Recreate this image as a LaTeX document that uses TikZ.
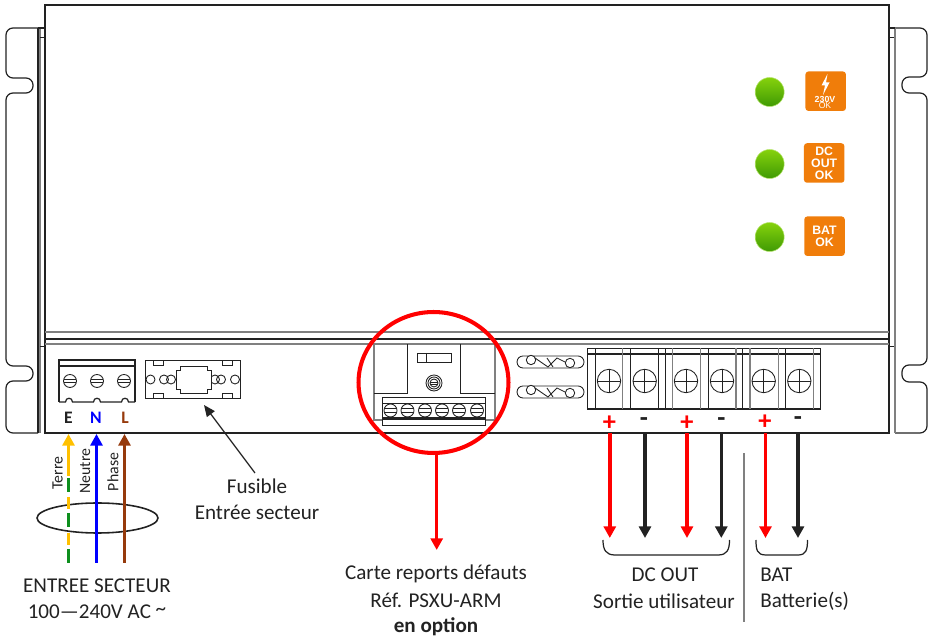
\documentclass[tikz,border=0pt]{standalone}
\usepackage{fontspec}
\setmainfont{Carlito}
\newfontfamily\badgefont{Liberation Sans}
\usetikzlibrary{arrows.meta,shapes.geometric}
\definecolor{caseblack}{HTML}{222222}
\definecolor{casegray}{HTML}{808080}
\definecolor{earthyellow}{HTML}{FFC000}
\definecolor{earthgreen}{HTML}{0E8F1E}
\definecolor{phasebrown}{HTML}{963A0C}
\definecolor{badgeorange}{HTML}{F07D0A}
\definecolor{ledtop}{HTML}{86D20C}
\definecolor{ledbottom}{HTML}{3F9A04}
\tikzset{
    caseline/.style={draw=caseblack, line width=0.7pt},
    thinline/.style={draw=caseblack, line width=0.5pt},
    grayline/.style={draw=casegray, line width=0.7pt},
    label/.style={inner sep=0pt, text=caseblack, font=\fontsize{12}{14}\selectfont},
    sidelabel/.style={inner sep=0pt, text=caseblack, rotate=90, font=\fontsize{9}{10}\selectfont},
    pinlabel/.style={inner sep=0pt, font=\fontsize{10}{11}\selectfont\bfseries},
    polarity/.style={inner sep=0pt, font=\fontsize{15}{16}\selectfont\bfseries},
    wire/.style={line width=2pt, -{Triangle[length=6.6pt,width=6.8pt]}},
    plainwire/.style={line width=2pt},
    led/.style={circle, minimum size=0.58cm, inner sep=0pt, top color=ledtop, bottom color=ledbottom, draw=ledtop!60!white, line width=0.3pt},
    badge/.style={rounded corners=0.6mm, fill=badgeorange, text=white, inner sep=0pt, minimum width=0.81cm, minimum height=0.79cm, align=center, font=\badgefont\fontsize{7}{6.9}\selectfont\bfseries},
    slotscrew/.pic={
        \draw[thinline] (0,0) circle (6.5);
        \draw[thinline] (-6,-1.6) -- (6,-1.6);
        \draw[thinline] (-6,1.6) -- (6,1.6);
    },
    crossscrew/.pic={
        \draw[thinline] (0,0) circle (11.7);
        \draw[thinline] (-11.7,0) -- (11.7,0);
        \draw[thinline] (0,-11.7) -- (0,11.7);
    },
}
\begin{document}
\begin{tikzpicture}[x=0.02cm, y=-0.02cm]
    \useasboundingbox (0,0) rectangle (931,638);

    % Side plates with their slots
    \draw[caseline, rounded corners=1.4mm] (38,28) -- (6,28) -- (6,78) -- (33,78) -- (33,93) -- (6,93) -- (6,366) -- (33,366) -- (33,381) -- (6,381) -- (6,433) -- (38,433);
    \draw[caseline, rounded corners=1.4mm] (895,28) -- (927,28) -- (927,77) -- (902,77) -- (902,93) -- (927,93) -- (927,365) -- (902,365) -- (902,382) -- (927,382) -- (927,433) -- (895,433);
    \draw[caseline] (38,28) -- (38,433);
    \draw[casegray, line width=1.1pt] (39.7,28) -- (39.7,433);
    \draw[thinline] (40,37) -- (45,37);
    \draw[thinline] (40,346) -- (45,346);
    \draw[casegray, line width=1.3pt] (894.7,28) -- (894.7,433);
    \draw[thinline] (889,37) -- (894,37);
    \draw[thinline] (889,346) -- (894,346);
    \draw[caseline] (889,28) -- (895,28);
    \draw[caseline] (38,28) -- (45,28);

    % Main case
    \draw[caseline] (45,5) rectangle (889,433);
    \draw[grayline] (45,332) -- (889,332);
    \draw[caseline] (45,339) -- (889,339);
    \draw[grayline] (45,344) -- (889,344);

    % Indicators on the front
    \node[led] (ledmains) at (769.7,92) {};
    \node[led] (leddc) at (769.7,164) {};
    \node[led] (ledbat) at (769.7,237) {};
    \node[badge] (badgemains) at (825.7,91.2) {};
    \fill[white] (827.5,74) -- (821.5,85.5) -- (825,85.5) -- (823,95) -- (829.5,82.5) -- (826,82.5) -- cycle;
    \node[inner sep=0pt, text=white, font=\badgefont\fontsize{5}{5}\selectfont\bfseries] (volt) at (825,99) {230V};
    \node[inner sep=0pt, text=white, font=\badgefont\fontsize{4.9}{5}\selectfont] (voltok) at (825,106) {OK};
    \node[badge] (badgedc) at (824.2,163) {DC\\OUT\\OK};
    \node[badge] (badgebat) at (824.5,236.2) {BAT\\OK};

    % Mains terminal
    \draw[caseline] (59,402) -- (59,360) -- (135,360) -- (135,402);
    \draw[caseline] (59,366) -- (135,366);
    \draw[caseline] (59,402) -- (65.5,402) .. controls (65.5,397) and (72.5,397) .. (72.5,402) -- (93.5,402) .. controls (93.5,397) and (100.5,397) .. (100.5,402) -- (121.5,402) .. controls (121.5,397) and (128.5,397) .. (128.5,402) -- (135,402);
    \pic at (70,381) {slotscrew};
    \pic at (97,381) {slotscrew};
    \pic at (124,381) {slotscrew};
    \node[pinlabel, text=caseblack] (pinE) at (68.5,418) {E};
    \node[pinlabel, text=blue] (pinN) at (96,418) {N};
    \node[pinlabel, text=phasebrown] (pinL) at (125,418) {L};

    % Fuse holder
    \draw[caseline] (145.5,360.7) rectangle (240.3,398.3);
    \draw[thinline] (153,360.7) rectangle (163,365);
    \draw[thinline] (222,360.7) rectangle (232,365);
    \draw[thinline] (153,393) rectangle (163,398.3);
    \draw[thinline] (222,393) rectangle (232,398.3);
    \draw[thinline] (150.5,379.5) circle (4.5);
    \draw[thinline] (164,379.5) circle (4.5);
    \draw[thinline] (171,379.5) circle (4.5);
    \draw[thinline] (215,379.5) circle (4.5);
    \draw[thinline] (221,379.5) circle (4.5);
    \draw[thinline] (235,379.5) circle (4.5);
    \draw[thinline, fill=white] (180,366) -- (207,366) -- (207,370) -- (211,370) -- (211,389) -- (207,389) -- (207,393) -- (180,393) -- (180,389) -- (176,389) -- (176,370) -- (180,370) -- cycle;

    % Fault card
    \draw[grayline] (374,344) -- (374,420) -- (495,420) -- (495,344);
    \draw[thinline] (374,393) -- (407,393) -- (407,344);
    \draw[thinline] (495,393) -- (460,393) -- (460,344);
    \draw[thinline] (417.5,353) rectangle (451.5,362);
    \draw[thinline] (426,353) -- (426,362);
    \draw[thinline] (434,383) circle (8);
    \draw[thinline] (434,383) circle (6);
    \draw[thinline] (434,383) circle (4);
    \draw[thinline] (430,382) -- (438,382);
    \draw[thinline] (430,384) -- (438,384);
    \draw[thinline, fill=white] (382.5,397) rectangle (485,425);
    \draw[thinline] (382.5,403) -- (485,403);
    \draw[caseblack, line width=1.4pt] (382.5,418.5) -- (485,418.5);
    \pic at (390.5,410.5) {slotscrew};
    \pic at (407.5,410.5) {slotscrew};
    \pic at (425,410.5) {slotscrew};
    \pic at (442,410.5) {slotscrew};
    \pic at (459,410.5) {slotscrew};
    \pic at (477,410.5) {slotscrew};
    \node[draw=red, line width=2.3pt, ellipse, inner sep=0pt, minimum width=3.0cm, minimum height=2.82cm] (cardring) at (433.5,382.5) {};

    % Output fuses
    \draw[thinline, rounded corners=1.2mm] (517,356) rectangle (584,368);
    \draw[thinline, fill=white] (531,360) circle (4.7);
    \draw[thinline, fill=white] (570,363) circle (4.7);
    \draw[thinline] (535,358) -- (548,367) -- (557,358) -- (565,362);
    \draw[thinline] (547,358) -- (553,367);
    \draw[thinline, rounded corners=1.2mm] (517,386) rectangle (584,398);
    \draw[thinline, fill=white] (531,390) circle (4.7);
    \draw[thinline, fill=white] (570,393) circle (4.7);
    \draw[thinline] (535,388) -- (548,397) -- (557,388) -- (565,392);
    \draw[thinline] (547,388) -- (553,397);

    % Output terminal block
    \draw[caseline] (587.3,348.5) rectangle (820.7,409);
    \draw[caseline] (587.3,354) -- (820.7,354);
    \draw[thinline] (595,348.5) -- (595,409);
    \draw[grayline] (622.7,348.5) -- (622.7,409);
    \draw[thinline] (630.7,348.5) -- (630.7,409);
    \draw[thinline] (658.3,348.5) -- (658.3,409);
    \draw[thinline] (665.7,348.5) -- (665.7,409);
    \draw[grayline] (672.3,348.5) -- (672.3,409);
    \draw[grayline] (700.7,348.5) -- (700.7,409);
    \draw[thinline] (708.3,348.5) -- (708.3,409);
    \draw[grayline] (736,348.5) -- (736,409);
    \draw[thinline] (742.7,348.5) -- (742.7,409);
    \draw[grayline] (750,348.5) -- (750,409);
    \draw[grayline] (778.3,348.5) -- (778.3,409);
    \draw[thinline] (785.7,348.5) -- (785.7,409);
    \draw[grayline] (813.3,348.5) -- (813.3,409);
    \pic at (609,381) {crossscrew};
    \pic at (644.7,381) {crossscrew};
    \pic at (686,381) {crossscrew};
    \pic at (722,381) {crossscrew};
    \pic at (763.7,381) {crossscrew};
    \pic at (799.3,381) {crossscrew};

    % Polarity marks
    \node[polarity, text=red] (plusa) at (609.5,423) {+};
    \node[polarity, text=caseblack] (minusa) at (644,422) {-};
    \node[polarity, text=red] (plusb) at (687,423) {+};
    \node[polarity, text=caseblack] (minusb) at (721.5,422) {-};
    \node[polarity, text=red] (plusc) at (765,422) {+};
    \node[polarity, text=caseblack] (minusc) at (798,421) {-};

    % Mains wires
    \coordinate (earthtip) at (68.5,434);
    \coordinate (earthA) at (68.5,476);
    \coordinate (earthB) at (68.5,478);
    \coordinate (earthC) at (68.5,492);
    \coordinate (earthD) at (68.5,497);
    \coordinate (earthE) at (68.5,509);
    \coordinate (earthF) at (68.5,513);
    \coordinate (earthG) at (68.5,527);
    \coordinate (earthH) at (68.5,533);
    \coordinate (earthI) at (68.5,545);
    \coordinate (earthJ) at (68.5,549);
    \coordinate (earthK) at (68.5,562.6);
    \coordinate (neutraltip) at (96.5,434);
    \coordinate (neutralend) at (96.5,562.6);
    \coordinate (phasetip) at (124.5,434);
    \coordinate (phaseend) at (124.5,562.6);
    \node[draw=caseblack, line width=0.9pt, ellipse, inner sep=0pt, minimum width=2.42cm, minimum height=0.6cm] (bundle) at (97.5,518) {};
    \draw[wire, earthyellow] (earthA) -- (earthtip);
    \draw[plainwire, earthgreen] (earthB) -- (earthC);
    \draw[plainwire, earthyellow] (earthD) -- (earthE);
    \draw[plainwire, earthgreen] (earthF) -- (earthG);
    \draw[plainwire, earthyellow] (earthH) -- (earthI);
    \draw[plainwire, earthgreen] (earthJ) -- (earthK);
    \draw[wire, blue] (neutralend) -- (neutraltip);
    \draw[wire, phasebrown] (phaseend) -- (phasetip);
    \node[sidelabel] (terre) at (57.5,473) {Terre};
    \node[sidelabel] (neutre) at (85,471) {Neutre};
    \node[sidelabel] (phase) at (113,472) {Phase};
    \node[label] (mainsa) at (97,586) {ENTREE SECTEUR};
    \node[label] (mainsb) at (97,612) {100—240V AC \raisebox{2pt}{\textasciitilde}};

    % Fuse callout
    \node[label] (fusea) at (257,486) {Fusible};
    \node[label] (fuseb) at (257,512) {Entrée secteur};
    \coordinate (fusestart) at (255,473);
    \coordinate (fusetip) at (204,405);
    \draw[caseline, -{Triangle[length=6.5pt,width=5.5pt]}] (fusestart) -- (fusetip);

    % Card callout
    \coordinate (cardtip) at (436.7,550);
    \draw[wire, red] (cardtip |- cardring.south) -- (cardtip);
    \node[label] (carda) at (436,574) {Carte reports défauts};
    \node[label] (cardb) at (436,600) {Réf. PSXU-ARM};
    \node[label, font=\fontsize{12}{14}\selectfont\bfseries] (cardc) at (436,627) {en option};

    % Output wires
    \coordinate (outa) at (609.8,433);
    \coordinate (outatip) at (609.8,538);
    \coordinate (outb) at (645,433);
    \coordinate (outbtip) at (645,538);
    \coordinate (outc) at (687,433);
    \coordinate (outctip) at (687,538);
    \coordinate (outd) at (721.3,433);
    \coordinate (outdtip) at (721.3,538);
    \coordinate (oute) at (765.5,433);
    \coordinate (outetip) at (765.5,538);
    \coordinate (outf) at (798,433);
    \coordinate (outftip) at (798,538);
    \draw[wire, red] (outa) -- (outatip);
    \draw[wire, caseblack] (outb) -- (outbtip);
    \draw[wire, red] (outc) -- (outctip);
    \draw[wire, caseblack] (outd) -- (outdtip);
    \draw[wire, red] (oute) -- (outetip);
    \draw[wire, caseblack] (outf) -- (outftip);

    % Brackets and divider
    \draw[caseline] (603,540) .. controls (603,550) and (606,555) .. (615,555) -- (718,555) .. controls (727,555) and (729.5,550) .. (729.5,540);
    \draw[caseline] (756,540) .. controls (756,550) and (757,555) .. (766,555) -- (798,555) .. controls (806,555) and (807.5,550) .. (807.5,540);
    \draw[casegray, line width=0.9pt] (744,453.5) -- (744,622);
    \node[label] (dca) at (665,575) {DC OUT};
    \node[label] (dcb) at (664,601) {Sortie utilisateur};
    \node[label, anchor=west] (bata) at (760,575) {BAT};
    \node[label, anchor=west] (batb) at (760,601) {Batterie(s)};
\end{tikzpicture}
\end{document}
